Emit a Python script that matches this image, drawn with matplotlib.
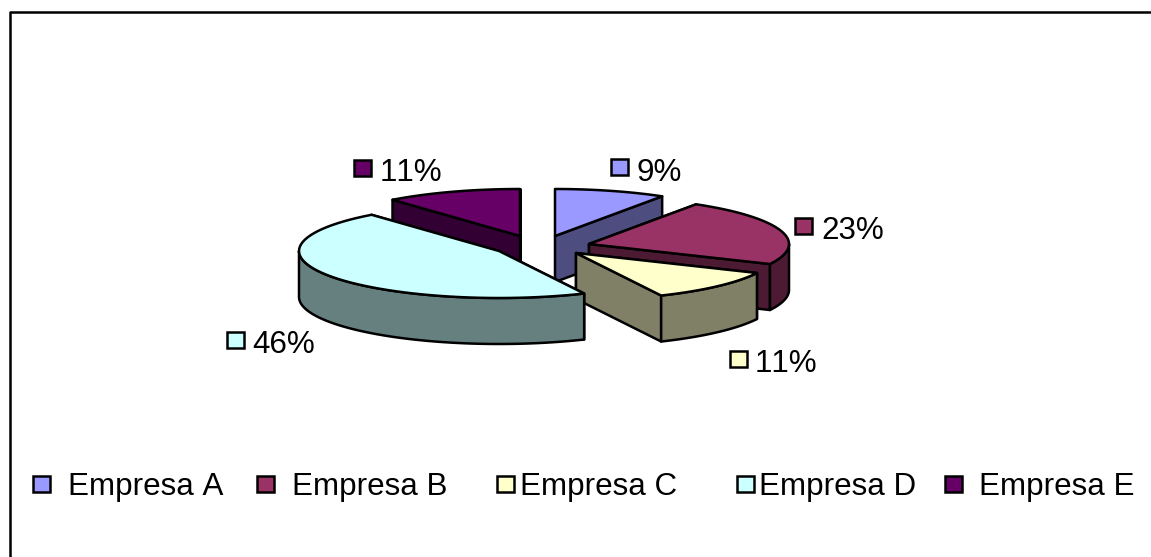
import numpy as np
import matplotlib
matplotlib.use("Agg")
import matplotlib.pyplot as plt
from matplotlib.patches import Polygon, Rectangle

plt.rcParams['font.family'] = ['Liberation Sans', 'DejaVu Sans']
plt.rcParams['text.kerning_factor'] = 10

empresas = ["Empresa A", "Empresa B", "Empresa C", "Empresa D", "Empresa E"]
shares = [9, 23, 11, 46, 11]
pct_labels = ["9%", "23%", "11%", "46%", "11%"]

colors = ["#9999FF", "#993366", "#FFFFCC", "#CCFFFF", "#660066"]
sides = ["#4D4D80", "#4D1A33", "#808066", "#668080", "#330033"]

W, H = 1151, 557
RX, RY = 200, 47
DEPTH = 46
LW = 1.8
FS = 22.6

# exploded centre of each slice, in pixels
centres = [(555, 236), (589, 244), (576, 253), (499, 251), (520, 236)]
# marker box left/top and text left/baseline
pct_pos = [(611, 159, 637, 181), (795, 218, 821, 239), (730, 351, 755, 372),
           (227, 332, 252, 353), (354, 160, 380, 181)]
leg_pos = [(33, 68), (257, 292), (497, 520), (737, 759), (945, 979)]


def rim(c, a0, a1, n=60):
    # angles in degrees, clockwise from the top of the pie
    t = np.radians(np.linspace(a0, a1, n))
    return np.column_stack([c[0] + RX * np.sin(t), c[1] - RY * np.cos(t)])


def poly(ax, pts, color):
    ax.add_patch(Polygon(pts, closed=True, facecolor=color, edgecolor="black",
                         lw=LW, joinstyle="round"))


def draw_slice(ax, c, a0, a1, top, side):
    down = np.array([0, DEPTH])
    for a in (a0, a1):
        edge = rim(c, a, a, 1)[0]
        poly(ax, [c, edge, edge + down, np.array(c) + down], side)
    lo, hi = max(a0, 90), min(a1, 270)
    if lo < hi:
        arc = rim(c, lo, hi)
        poly(ax, np.vstack([arc, (arc + down)[::-1]]), side)
    poly(ax, np.vstack([[c], rim(c, a0, a1)]), top)


def box(ax, x, y, color):
    ax.add_patch(Rectangle((x, y), 17, 16, facecolor=color, edgecolor="black", lw=LW))


fig = plt.figure(figsize=(W / 100, H / 100), dpi=100)
ax = fig.add_axes([0, 0, 1, 1])
ax.set_xlim(0, W)
ax.set_ylim(H, 0)
ax.axis("off")

# chart frame, only left and top survive in the crop
ax.plot([10, 10, W], [H, 12, 12], color="black", lw=1.8)

bounds = np.cumsum([0] + shares) / sum(shares) * 360
for i in [4, 0, 1, 2, 3]:
    draw_slice(ax, centres[i], bounds[i], bounds[i + 1], colors[i], sides[i])

for i, lab in enumerate(pct_labels):
    mx, my, tx, ty = pct_pos[i]
    box(ax, mx, my, colors[i])
    ax.text(tx, ty, lab, fontsize=FS, ha="left", va="baseline", color="black")

for i, name in enumerate(empresas):
    mx, tx = leg_pos[i]
    box(ax, mx, 476, colors[i])
    ax.text(tx, 495, name, fontsize=FS, ha="left", va="baseline", color="black")

fig.savefig("out.png", dpi=100)
